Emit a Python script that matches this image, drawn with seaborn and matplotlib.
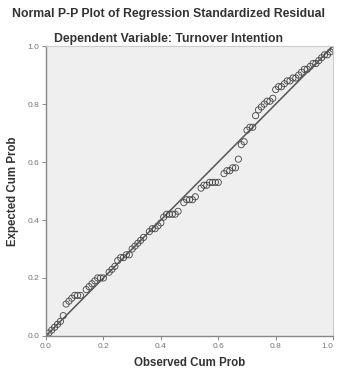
import numpy as np
import pandas as pd
import seaborn as sns
import matplotlib.pyplot as plt

# values
observed = [0.00, 0.01, 0.02, 0.03, 0.04, 0.05, 0.06,
            0.07, 0.08, 0.09, 0.10, 0.11, 0.12,
            0.14, 0.15, 0.16, 0.17, 0.18, 0.19, 0.20,
            0.22, 0.23, 0.24, 0.25, 0.26, 0.27, 0.28, 0.29,
            0.30, 0.31, 0.32, 0.33, 0.34,
            0.36, 0.37, 0.38, 0.39, 0.40,
            0.41, 0.42, 0.43, 0.44, 0.45, 0.46,
            0.48, 0.49, 0.50, 0.51, 0.52,
            0.54, 0.55, 0.56, 0.57, 0.58, 0.59, 0.60,
            0.62, 0.63, 0.64, 0.65,
            0.66, 0.67, 0.68, 0.69, 0.70, 0.71, 0.72, 0.73,
            0.74, 0.75, 0.76, 0.77, 0.78, 0.79,
            0.80, 0.81, 0.82, 0.83, 0.84, 0.85, 0.86,
            0.87, 0.88, 0.89, 0.90, 0.91, 0.92, 0.93,
            0.94, 0.95, 0.96, 0.97, 0.98, 0.99, 1.00]
expected = [0.00, 0.01, 0.02, 0.03, 0.04, 0.05, 0.07,
            0.11, 0.12, 0.13, 0.14, 0.14, 0.14,
            0.16, 0.17, 0.18, 0.19, 0.20, 0.20, 0.20,
            0.22, 0.23, 0.24, 0.26, 0.27, 0.27, 0.28, 0.28,
            0.30, 0.31, 0.32, 0.33, 0.34,
            0.36, 0.37, 0.37, 0.38, 0.39,
            0.41, 0.42, 0.42, 0.42, 0.42, 0.43,
            0.46, 0.47, 0.47, 0.47, 0.48,
            0.51, 0.52, 0.52, 0.53, 0.53, 0.53, 0.53,
            0.56, 0.57, 0.57, 0.58,
            0.58, 0.61, 0.66, 0.67, 0.71, 0.72, 0.72, 0.76,
            0.78, 0.79, 0.80, 0.81, 0.81, 0.82,
            0.85, 0.86, 0.86, 0.87, 0.88, 0.88, 0.89,
            0.89, 0.90, 0.91, 0.92, 0.92, 0.93, 0.94,
            0.94, 0.95, 0.96, 0.97, 0.97, 0.98, 0.99]
ref_line = [0.0, 1.0]
ticks = [0.0, 0.2, 0.4, 0.6, 0.8, 1.0]
tick_labels = ["0.0", "0.2", "0.4", "0.6", "0.8", "1.0"]

df = pd.DataFrame({"observed": observed, "expected": expected})
ref = pd.DataFrame({"x": ref_line, "y": ref_line})

sns.set_style("white")
plt.rcParams["font.family"] = ["Liberation Sans", "DejaVu Sans"]

fig = plt.figure(figsize=(3.37, 3.72), dpi=100)
ax = fig.add_axes([0.1365, 0.097, 0.852, 0.779])
ax.set_facecolor("#efefef")

sns.lineplot(data=ref, x="x", y="y", ax=ax, color="#555555", linewidth=1.1)
sns.scatterplot(data=df, x="observed", y="expected", ax=ax, marker="o", s=20,
                facecolor="none", edgecolor="#444444", linewidth=0.6)

ax.set_xlim(0, 1)
ax.set_ylim(0, 1)
ax.set_xticks(ticks)
ax.set_xticklabels(tick_labels)
ax.set_yticks(ticks)
ax.set_yticklabels(tick_labels)
ax.tick_params(axis="both", length=3, width=0.6, color="#777777",
               labelsize=6, labelcolor="#777777", pad=2, direction="out",
               bottom=True, left=True)
# keep the last x label inside the figure edge
ax.get_xticklabels()[-1].set_horizontalalignment("right")
for side in ["top", "right"]:
    ax.spines[side].set_color("#cccccc")
    ax.spines[side].set_linewidth(0.8)
for side in ["left", "bottom"]:
    ax.spines[side].set_color("#888888")
    ax.spines[side].set_linewidth(1.0)

ax.set_xlabel("Observed Cum Prob", fontsize=8.3, fontweight="bold", color="#333333", labelpad=5)
ax.set_ylabel("Expected Cum Prob", fontsize=8.3, fontweight="bold", color="#333333", labelpad=6)

fig.text(0.5, 0.962, "Normal P-P Plot of Regression Standardized Residual",
         ha="center", va="center", fontsize=8.8, fontweight="bold", color="#333333")
fig.text(0.5, 0.896, "Dependent Variable: Turnover Intention",
         ha="center", va="center", fontsize=8.8, fontweight="bold", color="#333333")

fig.savefig("out.png", dpi=100, facecolor="white")
